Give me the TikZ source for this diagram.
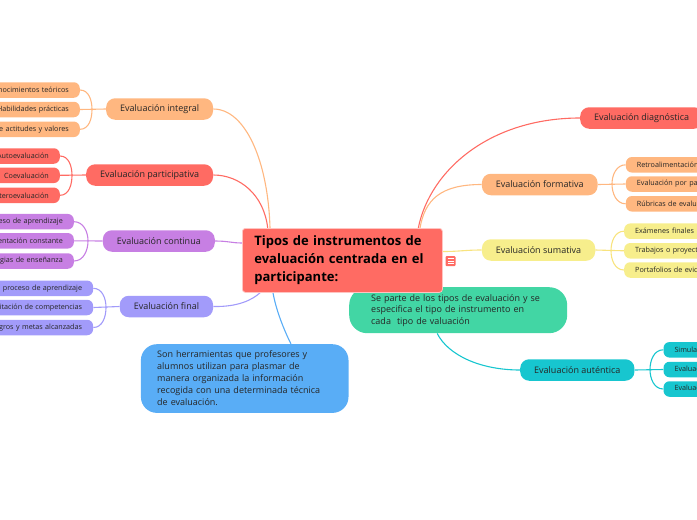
\documentclass[tikz,border=0pt]{standalone}
\usepackage{fontspec}
\setmainfont{Open Sans}
\usetikzlibrary{backgrounds,calc}
\definecolor{cOrange}{HTML}{FFB780}
\definecolor{cRed}{HTML}{FF6B63}
\definecolor{cPurple}{HTML}{C77FE3}
\definecolor{cLav}{HTML}{A29BFA}
\definecolor{cYellow}{HTML}{F7EE8C}
\definecolor{cTeal}{HTML}{17C6CF}
\definecolor{cGreen}{HTML}{42D6A4}
\definecolor{cBlue}{HTML}{59ADF6}
\definecolor{cText}{HTML}{262626}
\begin{document}
\begin{tikzpicture}[x=1pt,y=-1pt,
  branch/.style={rounded corners=9pt, minimum height=21.5pt, inner xsep=14pt, inner ysep=0pt,
    font=\fontsize{9}{11}\selectfont, text=cText},
  leafl/.style={rounded corners=6pt, minimum height=15.5pt, inner xsep=11pt, inner ysep=0pt,
    text width=140pt, align=right, anchor=east, font=\fontsize{7.2}{9}\selectfont, text=cText},
  leafr/.style={rounded corners=6pt, minimum height=15.5pt, inner xsep=11pt, inner ysep=0pt,
    text width=140pt, align=left, anchor=west, font=\fontsize{7.2}{9}\selectfont, text=cText},
  note/.style={align=left, anchor=north west, text=cText, inner ysep=0pt},
  link/.style={line width=1.1pt},
]
\useasboundingbox (0,0) rectangle (697,520);
\clip (0,0) rectangle (697,520);

% notes and central topic
\node[note, fill=cGreen, rounded corners=18pt, text width=174pt, inner xsep=22pt, minimum height=46pt,
  font=\fontsize{9}{11.5}\selectfont] (green) at (349,287)
  {Se parte de los tipos de evaluación y se\\especifica el tipo de instrumento en\\cada\ \ tipo de valuación};
\node[note, fill=cBlue, rounded corners=16pt, text width=175pt, inner xsep=16.3pt, minimum height=68.7pt,
  font=\fontsize{9}{12}\selectfont] (blue) at (140.7,344)
  {Son herramientas que profesores y\\alumnos utilizan para plasmar de\\manera organizada la información\\recogida con una determinada técnica\\de evaluación.};
\node[note, fill=cRed, draw=white!60!cRed, line width=0.8pt, rounded corners=3pt, text width=176pt, inner xsep=12pt,
  minimum width=200pt, minimum height=64pt, text=black, font=\fontsize{13}{18}\selectfont\bfseries] (c) at (242,228)
  {Tipos de instrumentos de\\evaluación centrada en el\\participante:};
\node[fill=cRed, rounded corners=1pt, minimum size=10pt, inner sep=0pt] (menu) at (450.5,261) {};
\draw[white, line width=0.8pt] ($(menu.center)+(-3,-2.5)$) -- ++(6,0)
  ($(menu.center)+(-3,0)$) -- ++(6,0) ($(menu.center)+(-3,2.5)$) -- ++(6,0);

% left branches
\node[branch, fill=cOrange, anchor=east] (integral) at (213.3,109) {Evaluación integral};
\node[branch, fill=cRed, anchor=east] (particip) at (213.3,175) {Evaluación participativa};
\node[branch, fill=cPurple, anchor=east] (continua) at (215,241) {Evaluación continua};
\node[branch, fill=cLav, anchor=east] (final) at (213.3,306.5) {Evaluación final};
% right branches
\node[branch, fill=cRed, anchor=west] (diag) at (580,118) {Evaluación diagnóstica};
\node[branch, fill=cOrange, anchor=west] (formativa) at (481.7,184.5) {Evaluación formativa};
\node[branch, fill=cYellow, anchor=west] (sumativa) at (481.7,250) {Evaluación sumativa};
\node[branch, fill=cTeal, anchor=west] (autentica) at (520,370) {Evaluación auténtica};

% left leaves
\node[leafl, fill=cOrange] (i1) at (80,90) {Conocimientos teóricos};
\node[leafl, fill=cOrange] (i2) at (80,109.5) {Habilidades prácticas};
\node[leafl, fill=cOrange] (i3) at (80,129.3) {Valoración de actitudes y valores};
\node[leafl, fill=cRed] (p1) at (60,156) {Autoevaluación};
\node[leafl, fill=cRed] (p2) at (60,175.3) {Coevaluación};
\node[leafl, fill=cRed] (p3) at (60,195.3) {Heteroevaluación};
\node[leafl, fill=cPurple] (n1) at (74,221.7) {Proceso de aprendizaje};
\node[leafl, fill=cPurple] (n2) at (74,240.8) {Retroalimentación constante};
\node[leafl, fill=cPurple] (n3) at (74,261) {Estrategias de enseñanza};
\node[leafl, fill=cLav] (f1) at (93.3,288.3) {Resultados del proceso de aprendizaje};
\node[leafl, fill=cLav] (f2) at (93.3,307.5) {Habilitación de competencias};
\node[leafl, fill=cLav] (f3) at (93.3,327.5) {Logros y metas alcanzadas};
% right leaves
\node[leafr, fill=cOrange] (r1) at (625.7,164.8) {Retroalimentación};
\node[leafr, fill=cOrange] (r2) at (625.7,184) {Evaluación por pares};
\node[leafr, fill=cOrange] (r3) at (625.7,203.8) {Rúbricas de evaluación};
\node[leafr, fill=cYellow] (s1) at (624,231.2) {Exámenes finales};
\node[leafr, fill=cYellow] (s2) at (624,250.8) {Trabajos o proyectos};
\node[leafr, fill=cYellow] (s3) at (624,270) {Portafolios de evidencias};
\node[leafr, fill=cTeal] (a1) at (663.3,349.8) {Simulaciones};
\node[leafr, fill=cTeal] (a2) at (663.3,369.5) {Evaluación de desempeño};
\node[leafr, fill=cTeal] (a3) at (663.3,389) {Evaluación de proyectos};

% junctions
\coordinate (ji) at (92,109.5);
\coordinate (jp) at (72,175.3);
\coordinate (jn) at (88,240.8);
\coordinate (jf) at (106,307.5);
\coordinate (jr) at (612,184);
\coordinate (js) at (611,250.8);
\coordinate (ja) at (650,369.5);

\begin{scope}[on background layer]
  % centre to branches
  \draw[link, cOrange] (integral.east) .. controls (245,109) and (268,160) .. ($(c.north west)+(28,0)$);
  \draw[link, cRed] (particip.east) .. controls (240,175) and (264,195) .. ($(c.north west)+(25.7,0)$);
  \draw[link, cPurple] (continua.east) .. controls (228,241) and (232,243) .. ($(c.north west)+(0,15)$);
  \draw[link, cLav] (final.east) .. controls (238,307) and (252,300) .. ($(c.south west)+(18,0)$);
  \draw[link, cBlue] ($(c.south west)+(31,0)$) .. controls (276,310) and (284,330) .. ($(blue.north west)+(150.3,0)$);
  \draw[link, cRed] ($(c.north west)+(176.3,0)$) .. controls (430,170) and (490,118) .. (diag.west);
  \draw[link, cOrange] ($(c.north west)+(178,0)$) .. controls (425,200) and (440,184.5) .. (formativa.west);
  \draw[link, cYellow!90!orange] ($(c.north east)+(0,23.5)$) .. controls (460,251.5) and (465,250) .. (sumativa.west);
  \draw[link, cTeal] ($(green.south)+(-21,0)$) .. controls (448,355) and (480,370) .. (autentica.west);
  % leaf brackets
  \draw[link, cOrange] (i1.east) to[out=0,in=90] (ji) (i3.east) to[out=0,in=-90] (ji) (i2.east) -- (integral.west);
  \draw[link, cRed] (p1.east) to[out=0,in=90] (jp) (p3.east) to[out=0,in=-90] (jp) (p2.east) -- (particip.west);
  \draw[link, cPurple] (n1.east) to[out=0,in=90] (jn) (n3.east) to[out=0,in=-90] (jn) (n2.east) -- (continua.west);
  \draw[link, cLav] (f1.east) to[out=0,in=90] (jf) (f3.east) to[out=0,in=-90] (jf) (f2.east) -- (final.west);
  \draw[link, cOrange] (r1.west) to[out=180,in=90] (jr) (r3.west) to[out=180,in=-90] (jr) (r2.west) -- (formativa.east);
  \draw[link, cYellow!90!orange] (s1.west) to[out=180,in=90] (js) (s3.west) to[out=180,in=-90] (js) (s2.west) -- (sumativa.east);
  \draw[link, cTeal] (a1.west) to[out=180,in=90] (ja) (a3.west) to[out=180,in=-90] (ja) (a2.west) -- (autentica.east);
\end{scope}
\end{tikzpicture}
\end{document}
